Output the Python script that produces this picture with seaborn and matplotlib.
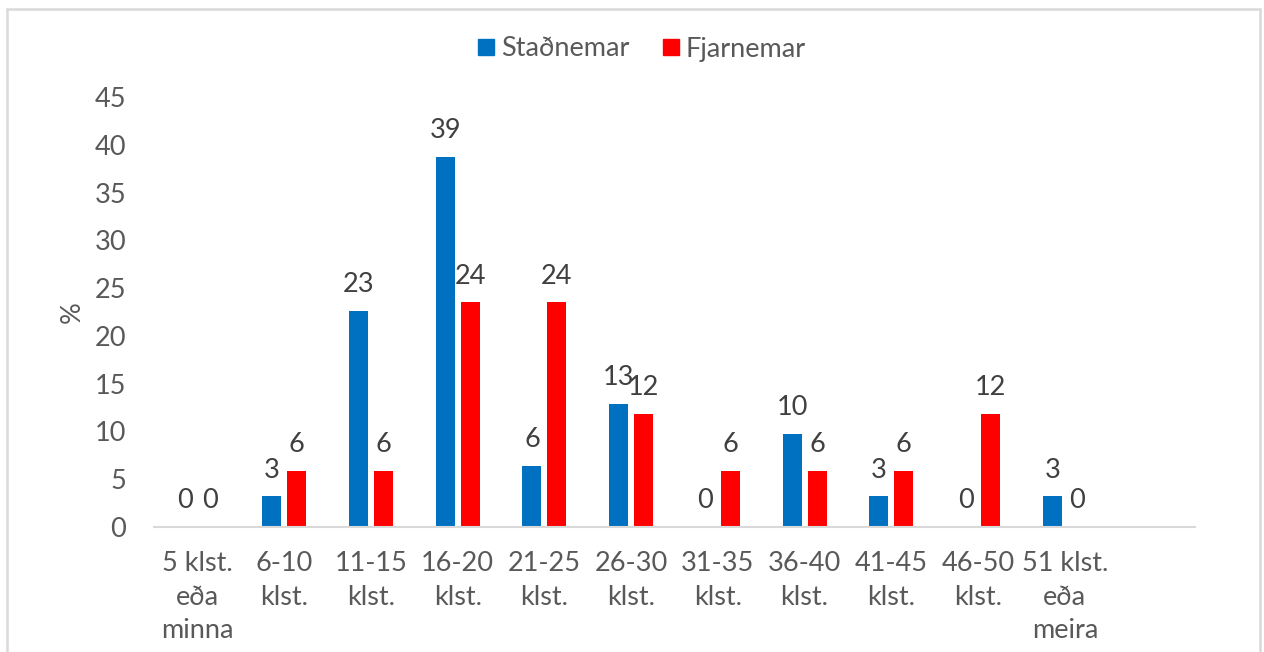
import matplotlib
matplotlib.use("Agg")
import matplotlib.pyplot as plt
import seaborn as sns
import pandas as pd
from matplotlib.lines import Line2D

categories = ["5 klst.\neða\nminna", "6-10\nklst.", "11-15\nklst.", "16-20\nklst.",
              "21-25\nklst.", "26-30\nklst.", "31-35\nklst.", "36-40\nklst.",
              "41-45\nklst.", "46-50\nklst.", "51 klst.\neða\nmeira"]
stadnemar = [0, 3.2, 22.6, 38.7, 6.4, 12.9, 0, 9.7, 3.2, 0, 3.2]
fjarnemar = [0, 5.9, 5.9, 23.5, 23.5, 11.8, 5.9, 5.9, 5.9, 11.8, 0]
series_names = ["Staðnemar", "Fjarnemar"]
colors = ["#0070C0", "#FF0000"]
yticks = [0, 5, 10, 15, 20, 25, 30, 35, 40, 45]

df = pd.DataFrame({
    "cat": categories * 2,
    "val": stadnemar + fjarnemar,
    "series": [series_names[0]] * len(categories) + [series_names[1]] * len(categories),
})

sns.set_theme(style="white")
plt.rcParams["font.family"] = ["Lato", "DejaVu Sans"]

FS = 19.5
fig = plt.figure(figsize=(12.64, 6.52), dpi=100)
ax = fig.add_axes([154 / 1264, 1 - 527 / 652, (1195 - 154) / 1264, (527 - 97) / 652])

sns.barplot(data=df, x="cat", y="val", hue="series", order=categories,
            hue_order=series_names, palette=colors, width=0.576, gap=0.236,
            ax=ax, legend=False, saturation=1, edgecolor="none")

for cont in ax.containers:
    ax.bar_label(cont, fmt="%.0f", padding=10, fontsize=FS, color="#404040")

ax.set_xlim(-0.5, 11.5)
ax.set_ylim(0, 45)
ax.set_yticks(yticks)
ax.set_xlabel("")
ax.tick_params(axis="y", length=0, labelsize=FS, labelcolor="#595959", pad=20)
ax.tick_params(axis="x", length=0, labelsize=FS, labelcolor="#595959", pad=17.5)
for lab in ax.get_xticklabels():
    lab.set_linespacing(1.42)
ax.set_ylabel("")
fig.text(72 / 1264, 1 - 312 / 652, "%", rotation=90, ha="center", va="center",
         fontsize=FS, color="#595959")
for s in ["top", "right", "left"]:
    ax.spines[s].set_visible(False)
ax.spines["bottom"].set_color("#D9D9D9")
ax.spines["bottom"].set_linewidth(1.5)
ax.grid(False)

handles = [Line2D([], [], marker="s", linestyle="none", markersize=12,
                  markerfacecolor=c, markeredgecolor=c) for c in colors]
leg = fig.legend(handles, series_names, loc="center", bbox_to_anchor=(639 / 1264, 1 - 49 / 652),
                 ncol=2, frameon=False, fontsize=FS, handletextpad=0.05, columnspacing=1.03,
                 handlelength=1.0)
for t in leg.get_texts():
    t.set_color("#595959")

# chart border
fig.add_artist(Line2D([7 / 1264, 7 / 1264], [0, 1 - 9 / 652], transform=fig.transFigure,
                      color="#D9D9D9", linewidth=1.8))
fig.add_artist(Line2D([7 / 1264, 1260 / 1264], [1 - 9 / 652, 1 - 9 / 652], transform=fig.transFigure,
                      color="#D9D9D9", linewidth=1.8))
fig.add_artist(Line2D([1260 / 1264, 1260 / 1264], [0, 1 - 9 / 652], transform=fig.transFigure,
                      color="#D9D9D9", linewidth=1.8))

fig.savefig("out.png", dpi=100)
